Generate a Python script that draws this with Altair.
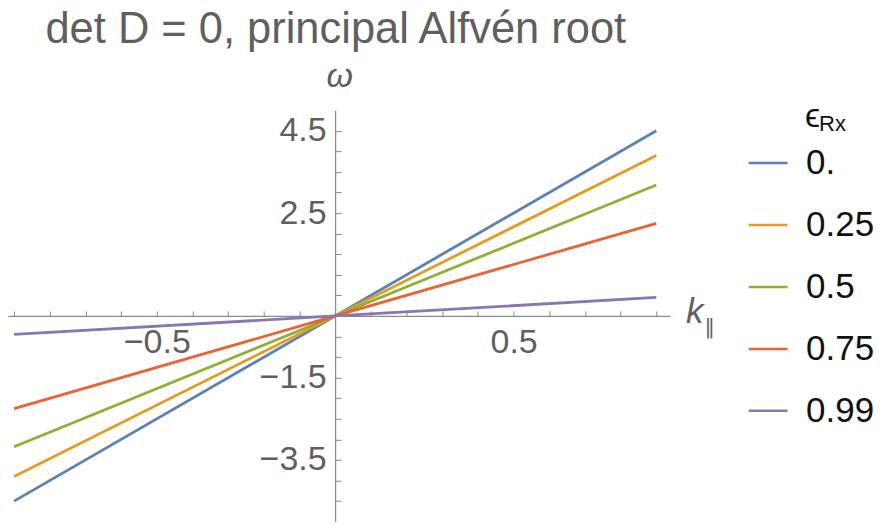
import altair as alt
import pandas as pd

# ---- data ----
eps_labels = ["0.", "0.25", "0.5", "0.75", "0.99"]
k_vals = [-0.9, 0.0, 0.9]
w_eps000 = [-4.5, 0.0, 4.5]
w_eps025 = [-3.9, 0.0, 3.9]
w_eps050 = [-3.18, 0.0, 3.18]
w_eps075 = [-2.25, 0.0, 2.25]
w_eps099 = [-0.45, 0.0, 0.45]
series = [w_eps000, w_eps025, w_eps050, w_eps075, w_eps099]
colors = ["#5E81B5", "#E19C24", "#8FB032", "#EB6235", "#8778B3"]

x_ticks = [-0.9, -0.8, -0.7, -0.6, -0.5, -0.4, -0.3, -0.2, -0.1,
           0.1, 0.2, 0.3, 0.4, 0.5, 0.6, 0.7, 0.8, 0.9]
x_labels = [-0.5, 0.5]
y_ticks = [-4.5, -4.0, -3.5, -3.0, -2.5, -2.0, -1.5, -1.0, -0.5,
           0.5, 1.0, 1.5, 2.0, 2.5, 3.0, 3.5, 4.0, 4.5]
y_labels = [-3.5, -1.5, 2.5, 4.5]

rows = []
for lab, ws in zip(eps_labels, series):
    for k, w in zip(k_vals, ws):
        rows.append({"eps": lab, "k": k, "w": w})
df = pd.DataFrame(rows)

W, H = 663, 412
X0 = 327.5          # pixel of k=0 inside the view
FONT = "Liberation Sans"
GRAY = "#5f5f5f"
AX = "#8a8a8a"

xsc = alt.Scale(domain=[-0.917, 0.939], nice=False, zero=False)
ysc = alt.Scale(domain=[-5, 5], nice=False, zero=False)

lines = alt.Chart(df).mark_line(strokeWidth=2.8, clip=False).encode(
    x=alt.X("k:Q", scale=xsc, axis=alt.Axis(
        orient="top", offset=-H / 2, values=x_ticks, labels=False, title=None,
        grid=False, tickSize=5, tickColor=AX, domainColor=AX, tickWidth=1, domainWidth=1.2)),
    y=alt.Y("w:Q", scale=ysc, axis=alt.Axis(
        orient="right", offset=-(W - X0), values=y_ticks, labels=False, title=None,
        grid=False, tickSize=6, tickColor=AX, domainColor=AX, tickWidth=1, domainWidth=1.2)),
    color=alt.Color("eps:N", sort=eps_labels,
                    scale=alt.Scale(domain=eps_labels, range=colors),
                    legend=alt.Legend(orient="none", legendX=740, legendY=32, title=None,
                                      symbolType="stroke", symbolSize=1521, symbolStrokeWidth=2.5,
                                      labelFontSize=35, labelFont=FONT, labelColor="#111111",
                                      labelOffset=17, rowPadding=23, padding=0)),
    detail="eps:N",
)

label_axes = alt.Chart(df).mark_line(opacity=0).encode(
    x=alt.X("k:Q", scale=xsc, axis=alt.Axis(
        orient="bottom", offset=-H / 2, values=x_labels, format=".1f", ticks=False, tickSize=0,
        domain=False, grid=False, title=None, labelFontSize=34, labelFont=FONT,
        labelColor=GRAY, labelPadding=10)),
    y=alt.Y("w:Q", scale=ysc, axis=alt.Axis(
        orient="left", offset=-X0, values=y_labels, format=".1f", ticks=False, tickSize=0,
        domain=False, grid=False, title=None, labelFontSize=34, labelFont=FONT,
        labelColor=GRAY, labelPadding=9)),
    detail="eps:N",
)

def txt(s, x, y, size, color, style="normal", font=FONT, align="left"):
    return alt.Chart(pd.DataFrame({"t": [s]})).mark_text(
        align=align, baseline="alphabetic", fontSize=size, font=font,
        fontStyle=style, color=color).encode(
        text="t:N", x=alt.value(x), y=alt.value(y))

title_t = txt("det D = 0, principal Alfvén root", 37.5, -67.3, 43.5, GRAY)
omega = txt("ω", 332, -23, 34, GRAY, "italic", align="center")
k_lab = txt("k", 678.7, 213, 35, GRAY, "italic")
par_lab = txt("∥", 697, 224, 21, GRAY, font="DejaVu Sans")
eps_t = txt("ϵ", 798, 17, 34, "#111111")
rx_t = txt("Rx", 812, 21, 22, "#111111")

chart = alt.layer(lines, label_axes, title_t, omega, k_lab, par_lab, eps_t, rx_t).resolve_axis(
    x="independent", y="independent"
).properties(
    width=W, height=H,
    autosize=alt.AutoSizeParams(type="none"),
    padding={"left": 0, "top": 102, "right": 208, "bottom": 0},
).configure_view(stroke=None)

chart.save("out.html", embed_options={"renderer": "svg", "actions": False})
